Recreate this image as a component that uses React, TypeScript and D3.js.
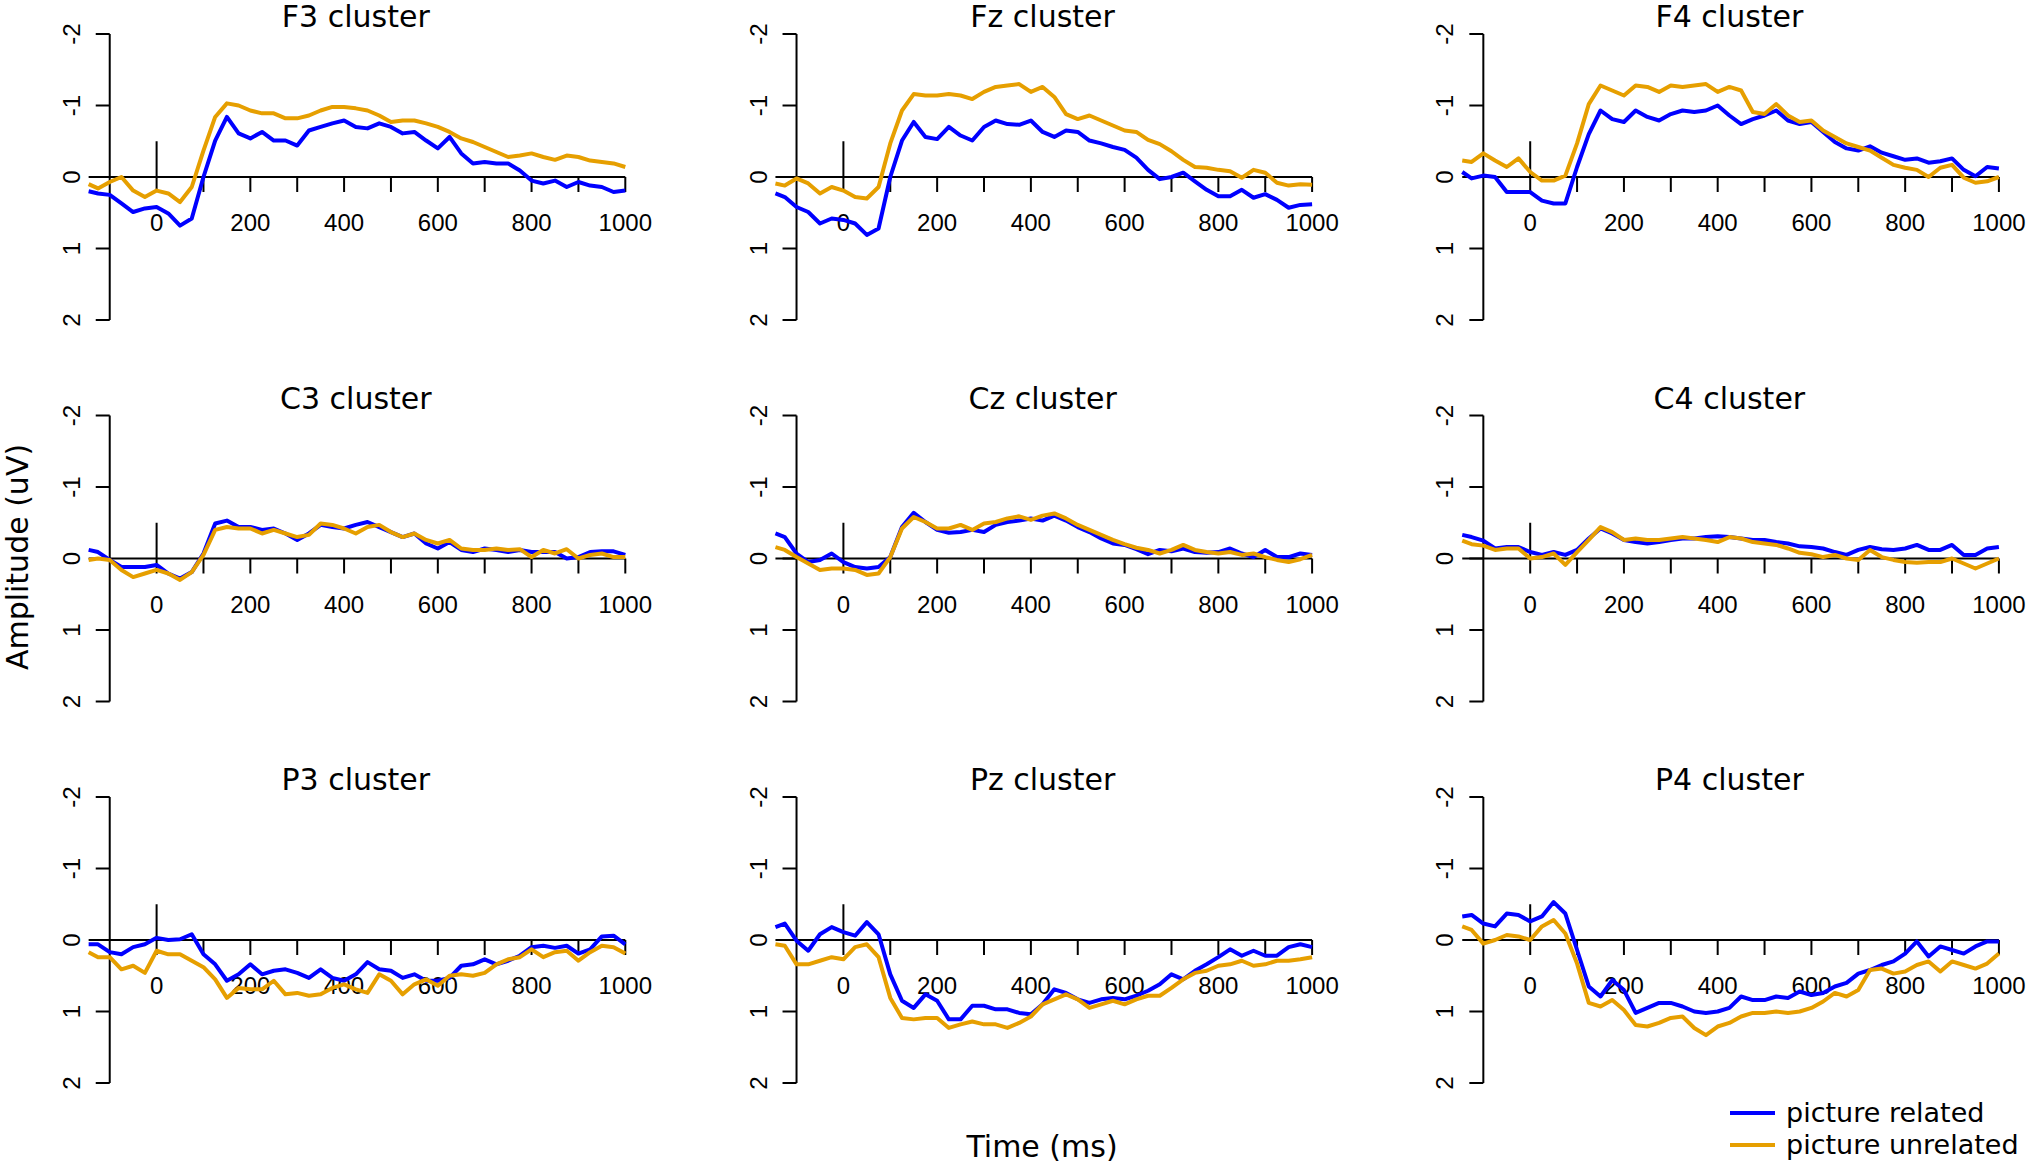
import React from "react";
import * as d3 from "d3";

// time points (ms), 25 ms steps
const times = [
  -145, -125, -100, -75, -50, -25, 0, 25, 50, 75, 100, 125, 150, 175, 200, 225, 250, 275, 300,
  325, 350, 375, 400, 425, 450, 475, 500, 525, 550, 575, 600, 625, 650, 675, 700, 725, 750, 775,
  800, 825, 850, 875, 900, 925, 950, 975, 1000,
];

const panelNames = [
  "F3 cluster", "Fz cluster", "F4 cluster",
  "C3 cluster", "Cz cluster", "C4 cluster",
  "P3 cluster", "Pz cluster", "P4 cluster",
];

// amplitude (uV), picture related
const related = [
  // F3
  [0.2, 0.23, 0.25, 0.37, 0.49, 0.44, 0.42, 0.51, 0.68, 0.58, 0.0, -0.51, -0.84, -0.61, -0.54,
   -0.63, -0.51, -0.51, -0.44, -0.65, -0.7, -0.75, -0.79, -0.7, -0.68, -0.75, -0.7, -0.61, -0.63,
   -0.51, -0.4, -0.56, -0.33, -0.19, -0.21, -0.19, -0.19, -0.09, 0.05, 0.09, 0.05, 0.14, 0.07,
   0.12, 0.14, 0.21, 0.19],
  // Fz
  [0.23, 0.28, 0.42, 0.49, 0.65, 0.58, 0.6, 0.65, 0.81, 0.72, 0.0, -0.51, -0.77, -0.56, -0.53,
   -0.7, -0.58, -0.51, -0.7, -0.79, -0.74, -0.73, -0.79, -0.63, -0.56, -0.65, -0.63, -0.51, -0.47,
   -0.42, -0.38, -0.27, -0.1, 0.03, 0.0, -0.06, 0.06, 0.18, 0.27, 0.27, 0.18, 0.29, 0.24, 0.32,
   0.43, 0.39, 0.38],
  // F4
  [-0.07, 0.02, -0.02, 0.0, 0.21, 0.21, 0.21, 0.33, 0.37, 0.37, -0.14, -0.6, -0.93, -0.81, -0.77,
   -0.93, -0.84, -0.79, -0.88, -0.93, -0.91, -0.93, -1.0, -0.86, -0.74, -0.81, -0.86, -0.93, -0.79,
   -0.74, -0.77, -0.63, -0.49, -0.4, -0.37, -0.43, -0.34, -0.29, -0.24, -0.26, -0.2, -0.22, -0.26,
   -0.1, -0.01, -0.14, -0.12],
  // C3
  [-0.12, -0.09, 0.02, 0.12, 0.12, 0.12, 0.09, 0.21, 0.28, 0.19, -0.07, -0.49, -0.53, -0.44, -0.44,
   -0.4, -0.42, -0.35, -0.26, -0.35, -0.47, -0.44, -0.42, -0.47, -0.51, -0.44, -0.37, -0.3, -0.35,
   -0.21, -0.14, -0.23, -0.12, -0.09, -0.14, -0.12, -0.09, -0.12, -0.09, -0.09, -0.09, 0.0, -0.02,
   -0.09, -0.1, -0.1, -0.05],
  // Cz
  [-0.35, -0.3, -0.07, 0.05, 0.02, -0.07, 0.05, 0.12, 0.14, 0.12, -0.02, -0.44, -0.64, -0.51, -0.4,
   -0.36, -0.37, -0.4, -0.37, -0.47, -0.51, -0.53, -0.56, -0.53, -0.6, -0.53, -0.44, -0.37, -0.28,
   -0.21, -0.19, -0.13, -0.06, -0.12, -0.1, -0.14, -0.09, -0.08, -0.09, -0.14, -0.07, -0.02, -0.12,
   -0.02, -0.02, -0.07, -0.05],
  // C4
  [-0.33, -0.3, -0.25, -0.14, -0.16, -0.16, -0.09, -0.05, -0.09, -0.05, -0.12, -0.28, -0.42, -0.35,
   -0.26, -0.23, -0.21, -0.23, -0.26, -0.28, -0.28, -0.3, -0.31, -0.3, -0.28, -0.26, -0.26, -0.23,
   -0.21, -0.17, -0.16, -0.14, -0.09, -0.05, -0.12, -0.16, -0.13, -0.12, -0.14, -0.19, -0.12, -0.12,
   -0.19, -0.05, -0.05, -0.14, -0.16],
  // P3
  [0.06, 0.06, 0.17, 0.2, 0.1, 0.06, -0.03, 0.0, -0.01, -0.08, 0.2, 0.34, 0.57, 0.48, 0.34, 0.48,
   0.43, 0.41, 0.46, 0.53, 0.41, 0.53, 0.57, 0.48, 0.31, 0.41, 0.43, 0.53, 0.48, 0.57, 0.57, 0.53,
   0.36, 0.34, 0.27, 0.34, 0.29, 0.22, 0.1, 0.08, 0.11, 0.08, 0.19, 0.13, -0.05, -0.06, 0.06],
  // Pz
  [-0.18, -0.23, 0.01, 0.15, -0.08, -0.18, -0.11, -0.06, -0.25, -0.08, 0.48, 0.85, 0.95, 0.76, 0.85,
   1.11, 1.11, 0.92, 0.92, 0.97, 0.97, 1.02, 1.04, 0.9, 0.69, 0.74, 0.83, 0.88, 0.83, 0.81, 0.83,
   0.78, 0.71, 0.62, 0.48, 0.55, 0.43, 0.34, 0.24, 0.13, 0.22, 0.15, 0.22, 0.22, 0.1, 0.06, 0.1],
  // P4
  [-0.33, -0.35, -0.23, -0.19, -0.37, -0.35, -0.26, -0.33, -0.53, -0.37, 0.14, 0.65, 0.79, 0.56, 0.7,
   1.02, 0.95, 0.88, 0.88, 0.93, 1.0, 1.02, 1.0, 0.95, 0.79, 0.84, 0.84, 0.79, 0.81, 0.72, 0.77,
   0.74, 0.65, 0.6, 0.47, 0.42, 0.35, 0.3, 0.19, 0.02, 0.23, 0.09, 0.14, 0.19, 0.09, 0.02, 0.02],
];

// amplitude (uV), picture unrelated
const unrelated = [
  // F3
  [0.1, 0.16, 0.07, 0.0, 0.19, 0.28, 0.19, 0.23, 0.35, 0.14, -0.37, -0.84, -1.03, -1.0, -0.93,
   -0.89, -0.89, -0.82, -0.82, -0.86, -0.93, -0.98, -0.98, -0.96, -0.93, -0.86, -0.77, -0.79, -0.79,
   -0.75, -0.7, -0.63, -0.54, -0.49, -0.42, -0.35, -0.28, -0.3, -0.33, -0.28, -0.24, -0.3, -0.28,
   -0.23, -0.21, -0.19, -0.14],
  // Fz
  [0.09, 0.12, 0.02, 0.09, 0.23, 0.14, 0.19, 0.28, 0.3, 0.14, -0.47, -0.93, -1.16, -1.14, -1.14,
   -1.16, -1.14, -1.09, -1.19, -1.26, -1.28, -1.3, -1.19, -1.26, -1.12, -0.88, -0.81, -0.86, -0.79,
   -0.72, -0.65, -0.63, -0.52, -0.46, -0.36, -0.24, -0.14, -0.13, -0.1, -0.08, 0.01, -0.1, -0.06,
   0.08, 0.12, 0.1, 0.11],
  // F4
  [-0.23, -0.21, -0.33, -0.23, -0.14, -0.26, -0.07, 0.05, 0.05, -0.02, -0.47, -1.02, -1.28, -1.21,
   -1.14, -1.28, -1.26, -1.19, -1.28, -1.26, -1.28, -1.3, -1.19, -1.26, -1.21, -0.91, -0.88, -1.02,
   -0.86, -0.77, -0.79, -0.65, -0.56, -0.47, -0.42, -0.37, -0.27, -0.17, -0.13, -0.1, 0.0, -0.13,
   -0.17, 0.01, 0.08, 0.06, 0.0],
  // C3
  [0.02, 0.0, 0.02, 0.16, 0.26, 0.21, 0.16, 0.21, 0.3, 0.19, -0.05, -0.4, -0.44, -0.42, -0.42,
   -0.35, -0.4, -0.35, -0.3, -0.33, -0.49, -0.47, -0.42, -0.35, -0.44, -0.47, -0.37, -0.3, -0.35,
   -0.26, -0.21, -0.26, -0.14, -0.12, -0.12, -0.14, -0.12, -0.13, -0.02, -0.12, -0.07, -0.13, 0.0,
   -0.05, -0.07, -0.02, -0.02],
  // Cz
  [-0.16, -0.12, -0.02, 0.07, 0.16, 0.14, 0.14, 0.16, 0.23, 0.21, -0.02, -0.42, -0.58, -0.51, -0.42,
   -0.42, -0.47, -0.4, -0.49, -0.51, -0.56, -0.59, -0.54, -0.6, -0.63, -0.56, -0.47, -0.4, -0.33,
   -0.26, -0.2, -0.15, -0.12, -0.07, -0.12, -0.19, -0.12, -0.09, -0.07, -0.09, -0.05, -0.07, -0.02,
   0.02, 0.05, 0.01, -0.05],
  // C4
  [-0.25, -0.2, -0.18, -0.12, -0.14, -0.14, 0.0, -0.02, -0.07, 0.09, -0.09, -0.26, -0.44, -0.37,
   -0.26, -0.28, -0.26, -0.26, -0.28, -0.3, -0.28, -0.26, -0.23, -0.3, -0.28, -0.23, -0.21, -0.19,
   -0.14, -0.08, -0.06, -0.02, -0.05, 0.0, 0.02, -0.12, -0.02, 0.02, 0.05, 0.06, 0.05, 0.05, 0.0,
   0.07, 0.14, 0.07, 0.0],
  // P3
  [0.17, 0.24, 0.24, 0.41, 0.36, 0.46, 0.15, 0.2, 0.2, 0.29, 0.38, 0.55, 0.81, 0.67, 0.69, 0.69,
   0.57, 0.76, 0.74, 0.78, 0.76, 0.67, 0.62, 0.69, 0.74, 0.48, 0.57, 0.76, 0.62, 0.55, 0.64, 0.5,
   0.48, 0.5, 0.46, 0.34, 0.27, 0.24, 0.13, 0.24, 0.17, 0.15, 0.29, 0.17, 0.08, 0.1, 0.19],
  // Pz
  [0.06, 0.08, 0.34, 0.34, 0.29, 0.24, 0.27, 0.1, 0.06, 0.24, 0.81, 1.09, 1.11, 1.09, 1.09, 1.23,
   1.18, 1.14, 1.18, 1.18, 1.23, 1.16, 1.07, 0.9, 0.83, 0.76, 0.83, 0.95, 0.9, 0.85, 0.9, 0.83,
   0.78, 0.78, 0.67, 0.55, 0.46, 0.43, 0.36, 0.34, 0.29, 0.36, 0.34, 0.29, 0.29, 0.27, 0.24],
  // P4
  [-0.19, -0.14, 0.05, 0.0, -0.07, -0.05, 0.0, -0.19, -0.28, -0.09, 0.33, 0.88, 0.93, 0.84, 0.98,
   1.19, 1.21, 1.16, 1.09, 1.07, 1.23, 1.33, 1.21, 1.16, 1.07, 1.02, 1.02, 1.0, 1.02, 1.0, 0.95,
   0.86, 0.74, 0.79, 0.7, 0.42, 0.4, 0.47, 0.44, 0.35, 0.3, 0.44, 0.3, 0.35, 0.4, 0.33, 0.19],
];

const xTicks = [100, 200, 300, 400, 500, 600, 700, 800, 900, 1000];
const xLabels = [0, 200, 400, 600, 800, 1000];
const yTicks = [-2, -1, 0, 1, 2];

const legendLabels = ["picture related", "picture unrelated"];
const colors = ["#0000FF", "#E69F00"];

const W = 2030;
const H = 1165;
const titleFont = "'DejaVu Sans', Verdana, sans-serif";
const tickFont = "'Liberation Sans', Arial, sans-serif";

const Panel = ({ idx }: { idx: number }) => {
  const col = idx % 3;
  const row = Math.floor(idx / 3);
  const x0 = 156.6 + col * 686.8;
  const zero = 177 + row * 381.5;

  const x = d3.scaleLinear().domain([0, 1000]).range([x0, x0 + 468.7]);
  const y = d3.scaleLinear().domain([-2, 2]).range([zero - 143, zero + 143]);
  const line = d3
    .line<number>()
    .x((_, i) => x(times[i]))
    .y((d) => y(d));

  const tickLen = 15;
  const axisX = x(-100);

  return (
    <g>
      <text
        x={x(425)}
        y={zero - 150}
        textAnchor="middle"
        fontFamily={titleFont}
        fontSize={30}
      >
        {panelNames[idx]}
      </text>

      {/* y axis */}
      <line x1={axisX} x2={axisX} y1={y(-2)} y2={y(2)} stroke="#000" strokeWidth={2} />
      {yTicks.map((t) => (
        <g key={t}>
          <line x1={axisX - 14} x2={axisX} y1={y(t)} y2={y(t)} stroke="#000" strokeWidth={2} />
          <text
            transform={`translate(${axisX - 30},${y(t)}) rotate(-90)`}
            textAnchor="middle"
            fontFamily={tickFont}
            fontSize={24}
          >
            {t}
          </text>
        </g>
      ))}

      {/* x axis at zero */}
      <line x1={x(times[0])} x2={x(1000)} y1={y(0)} y2={y(0)} stroke="#000" strokeWidth={2} />
      <line x1={x(0)} x2={x(0)} y1={y(-0.5)} y2={y(0) + tickLen} stroke="#000" strokeWidth={2} />
      {xTicks.map((t) => (
        <line key={t} x1={x(t)} x2={x(t)} y1={y(0)} y2={y(0) + tickLen} stroke="#000" strokeWidth={2} />
      ))}
      {xLabels.map((t) => (
        <text
          key={t}
          x={x(t)}
          y={y(0) + 54}
          textAnchor="middle"
          fontFamily={tickFont}
          fontSize={24}
        >
          {t}
        </text>
      ))}

      <path d={line(related[idx]) ?? ""} fill="none" stroke={colors[0]} strokeWidth={4} strokeLinejoin="round" />
      <path d={line(unrelated[idx]) ?? ""} fill="none" stroke={colors[1]} strokeWidth={4} strokeLinejoin="round" />
    </g>
  );
};

const App = () => {
  return (
    <svg
      width={W}
      height={H}
      style={{ position: "absolute", left: 0, top: 0, background: "#fff" }}
    >
      <rect width={W} height={H} fill="#fff" />
      {panelNames.map((_, i) => (
        <Panel key={i} idx={i} />
      ))}

      <text
        transform="translate(28,557) rotate(-90)"
        textAnchor="middle"
        fontFamily={titleFont}
        fontSize={30}
      >
        Amplitude (uV)
      </text>
      <text x={1042} y={1157} textAnchor="middle" fontFamily={titleFont} fontSize={30}>
        Time (ms)
      </text>

      {legendLabels.map((lab, i) => (
        <g key={lab}>
          <line
            x1={1730}
            x2={1775}
            y1={1113 + i * 32}
            y2={1113 + i * 32}
            stroke={colors[i]}
            strokeWidth={4}
          />
          <text x={1786} y={1122 + i * 32} fontFamily={titleFont} fontSize={27}>
            {lab}
          </text>
        </g>
      ))}
    </svg>
  );
};

export default App;
